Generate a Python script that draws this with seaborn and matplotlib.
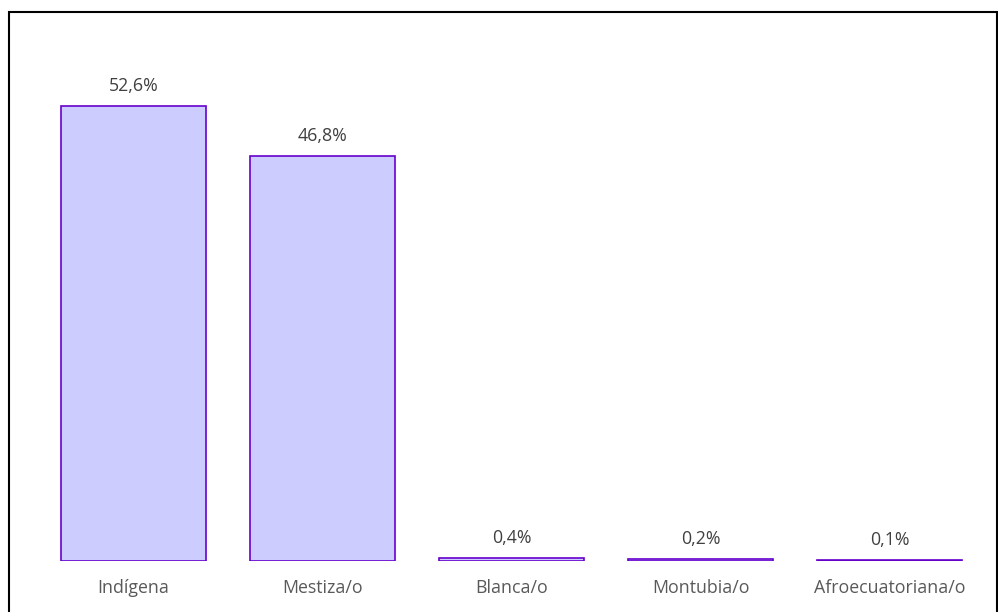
import matplotlib
matplotlib.use("Agg")
import matplotlib.pyplot as plt
from matplotlib.patches import Rectangle
import seaborn as sns
import pandas as pd

# ========= DATOS =========
categorias = ["Indígena", "Mestiza/o", "Blanca/o", "Montubia/o", "Afroecuatoriana/o"]
porcentajes = [52.6, 46.8, 0.4, 0.2, 0.1]
etiquetas = ["52,6%", "46,8%", "0,4%", "0,2%", "0,1%"]

df = pd.DataFrame({"grupo": categorias, "pct": porcentajes})

sns.set_style("white")
plt.rcParams["font.family"] = ["Open Sans", "DejaVu Sans"]

fig = plt.figure(figsize=(9.98, 6.12), dpi=100)
ax = fig.add_axes([39 / 998, 51 / 612, 945 / 998, 519 / 612])

sns.barplot(data=df, x="grupo", y="pct", ax=ax, color="#CCCCFF",
            edgecolor="#6600CC", linewidth=1.2, width=0.77, saturation=1)

for i, (v, t) in enumerate(zip(porcentajes, etiquetas)):
    ax.text(i, v + 2.3, t, ha="center", va="center", fontsize=12.8, color="#404040")

ax.set_ylim(0, 60)
ax.set_xlim(-0.5, 4.5)
ax.set_xlabel("")
ax.set_ylabel("")
ax.set_yticks([])
ax.tick_params(axis="x", length=0, pad=13, labelsize=12.8, labelcolor="#595959")
for s in ax.spines.values():
    s.set_visible(False)

# marco exterior
fig.patches.append(Rectangle((9 / 998, -0.05), 988 / 998, 1.05 - 12 / 612,
                             transform=fig.transFigure, fill=False,
                             edgecolor="black", linewidth=1.5, clip_on=False))

fig.savefig("out.png", dpi=100)
